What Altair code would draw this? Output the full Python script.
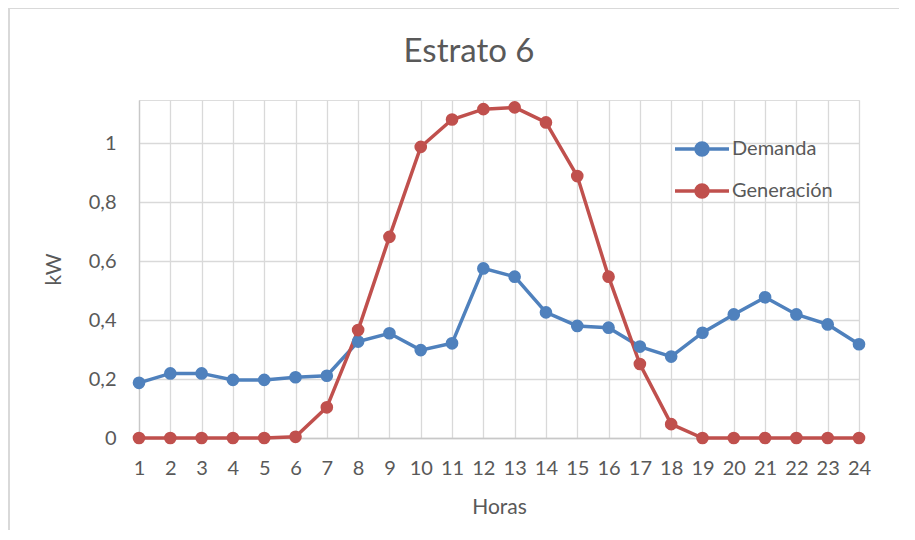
import altair as alt
import pandas as pd

hours = list(range(1, 25))
demanda = [0.187, 0.219, 0.219, 0.197, 0.197, 0.206, 0.211, 0.327, 0.355, 0.298, 0.321, 0.575,
           0.547, 0.426, 0.380, 0.374, 0.310, 0.276, 0.357, 0.419, 0.477, 0.419, 0.385, 0.318]
generacion = [0, 0, 0, 0, 0, 0.004, 0.104, 0.366, 0.682, 0.987, 1.080, 1.115,
              1.121, 1.070, 0.888, 0.547, 0.251, 0.047, 0, 0, 0, 0, 0, 0]
series = ["Demanda", "Generación"]
colors = ["#4F81BD", "#C0504D"]
y_ticks = [0, 0.2, 0.4, 0.6, 0.8, 1.0]

df = pd.DataFrame({
    "hora": hours * 2,
    "kw": demanda + generacion,
    "serie": [series[0]] * 24 + [series[1]] * 24,
})

FONT = "Lato"
GRAY = "#595959"
GRID = "#D9D9D9"

x = alt.X("hora:Q",
          scale=alt.Scale(domain=[1, 24], nice=False, zero=False),
          axis=alt.Axis(values=hours, title="Horas", grid=True, gridColor=GRID, gridWidth=1.3,
                        domain=True, domainColor="#C8C8C8", domainWidth=1.3, ticks=False,
                        labelPadding=20, labelFontSize=20, labelColor=GRAY, labelFont=FONT,
                        titleFont=FONT, titleFontSize=21, titleColor=GRAY, titleFontWeight="normal",
                        titlePadding=18, labelFlush=False))
y = alt.Y("kw:Q",
          scale=alt.Scale(domain=[0, 1.146], nice=False),
          axis=alt.Axis(values=y_ticks, title="kW", grid=True, gridColor=GRID, gridWidth=1.3,
                        domain=True, domainColor="#C8C8C8", domainWidth=1.3,
                        ticks=False, labelPadding=23, labelFontSize=20,
                        labelColor=GRAY, labelFont=FONT,
                        labelExpr="replace(format(datum.value, '~g'), '.', ',')",
                        titleFont=FONT, titleFontSize=21, titleColor=GRAY, titleFontWeight="normal",
                        titlePadding=24))
color = alt.Color("serie:N",
                  scale=alt.Scale(domain=series, range=colors),
                  legend=alt.Legend(title=None, orient="none", legendX=541, legendY=27,
                                    symbolType="M-1.35,0H1.35M-0.3,0a0.3,0.3 0 1,0 0.6,0a0.3,0.3 0 1,0 -0.6,0",
                                    symbolSize=1600, symbolStrokeWidth=3.5,
                                    labelFontSize=20, labelFont=FONT, labelColor=GRAY,
                                    labelOffset=8, rowPadding=7, padding=0))

base = alt.Chart(df).encode(x=x, y=y, color=color)
line = base.mark_line(strokeWidth=3.5)
pts = base.mark_point(filled=True, size=160, opacity=1)

# light outer frame of the chart area (decoration)
frame_left = alt.Chart(df).mark_rule(color="#D9D9D9", strokeWidth=1.5).encode(
    x=alt.value(-130), y=alt.value(-92), y2=alt.value(440))
frame_top = alt.Chart(df).mark_rule(color="#D9D9D9", strokeWidth=1.5).encode(
    x=alt.value(-130), x2=alt.value(770), y=alt.value(-92))

chart = alt.layer(frame_left, frame_top, line, pts).properties(
    width=720, height=338,
    title=alt.TitleParams("Estrato 6", font=FONT, fontSize=33, color=GRAY, fontWeight="normal",
                          anchor="middle", dx=-30, offset=0, dy=62),
    autosize="none",
    padding={"left": 131, "top": 92, "right": 40, "bottom": 92},
).configure_view(stroke=None).configure(background="white")

chart.save("out.html", embed_options={"renderer": "svg", "actions": False})
